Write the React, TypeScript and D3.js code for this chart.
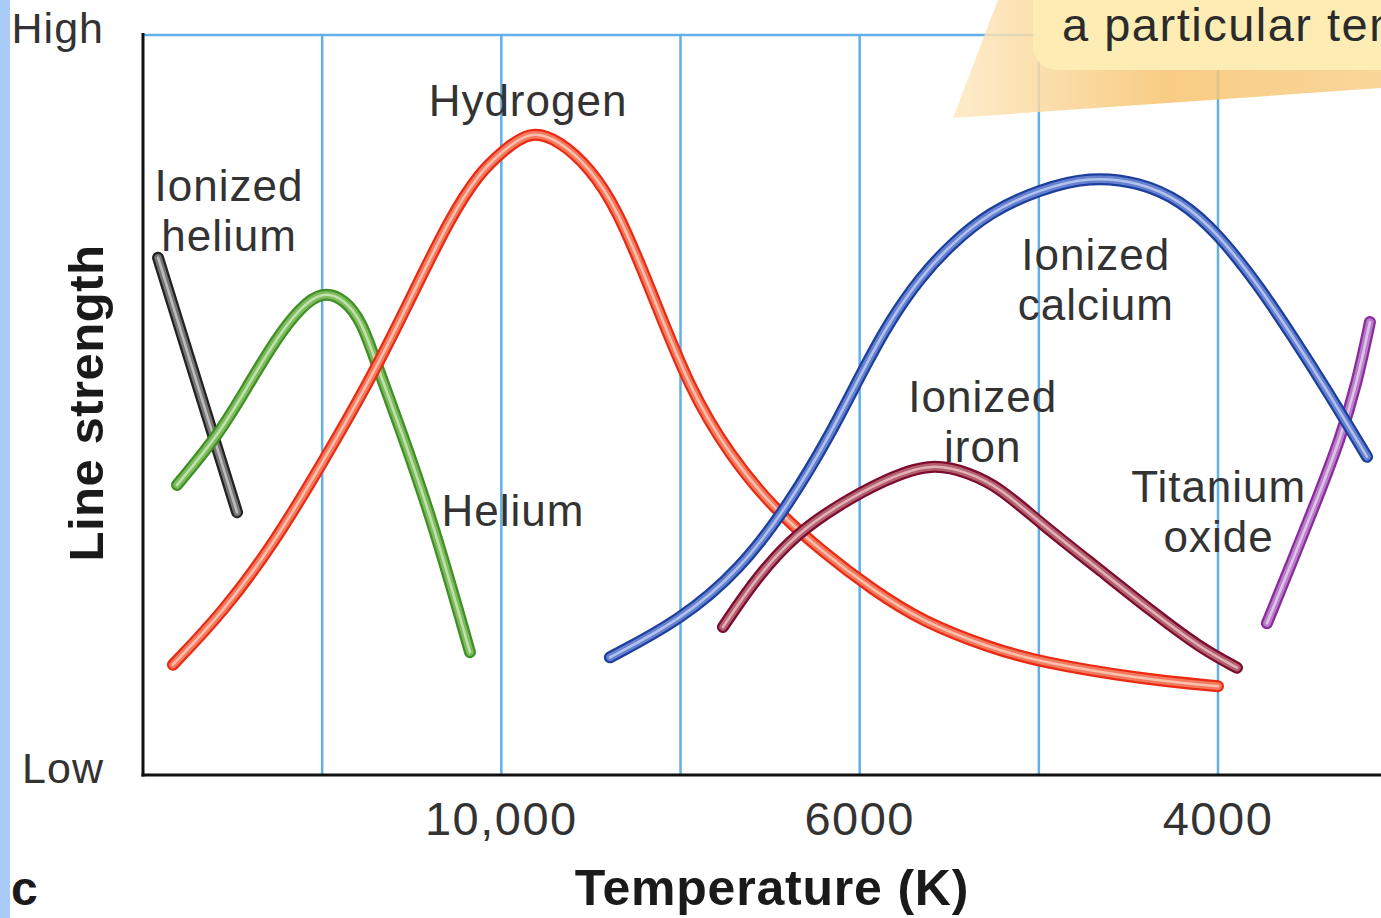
import * as d3 from "d3";
import React from "react";

// positions along the temperature axis are in grid steps (0 = y axis, 1..6 = blue gridlines)
const gridSteps = [1, 2, 3, 4, 5, 6];
const tickSteps = [2, 4, 6];
const tickLabels = ["10,000", "6000", "4000"];

// [grid step, line strength 0..100]
const ionizedHelium: [number, number][] = [
  [0.084, 69.9],
  [0.525, 35.5],
];
const helium: [number, number][] = [
  [0.19, 39.2], [0.43, 46.2], [0.597, 53.1], [0.748, 59.1], [0.876, 63.1],
  [0.999, 65.4], [1.127, 64.3], [1.222, 61.2], [1.295, 56.1], [1.434, 47.0],
  [1.619, 34.1], [1.825, 16.6],
];
const hydrogen: [number, number][] = [
  [0.167, 14.9], [0.446, 22.0], [0.726, 31.1], [1.005, 42.3], [1.284, 54.1],
  [1.49, 64.2], [1.713, 75.3], [1.881, 81.5], [2.004, 84.2], [2.16, 87.2],
  [2.327, 85.7], [2.495, 82.0], [2.645, 76.6], [2.83, 65.8], [3.053, 52.0],
  [3.276, 43.2], [3.516, 36.1], [3.795, 30.1], [4.074, 25.0], [4.353, 20.7],
  [4.727, 17.2], [5.001, 15.3], [5.564, 13.0], [6.0, 12.0],
];
const ionizedCalcium: [number, number][] = [
  [2.606, 15.9], [2.997, 20.9], [3.332, 27.7], [3.611, 36.8], [3.834, 45.9],
  [4.018, 54.7], [4.169, 61.4], [4.337, 67.2], [4.504, 71.6], [4.727, 76.1],
  [5.001, 79.1], [5.285, 80.9], [5.564, 80.1], [5.788, 77.7], [6.0, 73.2],
  [6.234, 65.9], [6.418, 59.2], [6.608, 52.0], [6.832, 43.0],
];
const ionizedIron: [number, number][] = [
  [3.237, 20.0], [3.427, 26.8], [3.65, 32.7], [3.89, 36.6], [4.113, 39.6],
  [4.392, 42.3], [4.616, 40.8], [4.783, 38.8], [5.001, 34.2], [5.341, 27.7],
  [5.62, 22.3], [5.899, 17.2], [6.106, 14.5],
];
const titaniumOxide: [number, number][] = [
  [6.273, 20.5], [6.418, 29.1], [6.552, 37.2], [6.681, 45.3], [6.776, 53.0],
  [6.848, 61.2],
];

const series = [
  { name: "ionizedHelium", data: ionizedHelium, dark: "#222", mid: "#767676", light: "#d0d0d0" },
  { name: "helium", data: helium, dark: "#3f8f24", mid: "#7dbb5c", light: "#d2ebc4" },
  { name: "hydrogen", data: hydrogen, dark: "#ea2a12", mid: "#f37a5e", light: "#fcd2c2" },
  { name: "ionizedIron", data: ionizedIron, dark: "#7c0b2e", mid: "#b3606f", light: "#ecc6cd" },
  { name: "titaniumOxide", data: titaniumOxide, dark: "#8b2a9c", mid: "#b87fc8", light: "#ead6f0" },
  { name: "ionizedCalcium", data: ionizedCalcium, dark: "#1c3f9e", mid: "#6581cf", light: "#c7d2f2" },
];

const labels = [
  { lines: ["Ionized", "helium"], step: 0.48, s: 77.6 },
  { lines: ["Hydrogen"], step: 2.149, s: 89.0 },
  { lines: ["Helium"], step: 2.065, s: 33.6 },
  { lines: ["Ionized", "calcium"], step: 5.318, s: 68.2 },
  { lines: ["Ionized", "iron"], step: 4.687, s: 49.0 },
  { lines: ["Titanium", "oxide"], step: 6.004, s: 36.9 },
];

const W = 1381;
const H = 918;

export default function App() {
  const x = d3.scaleLinear().domain([0, 6]).range([143, 1218]);
  const y = d3.scaleLinear().domain([0, 100]).range([775, 35]);
  const line = d3
    .line<[number, number]>()
    .x((d) => x(d[0]))
    .y((d) => y(d[1]))
    .curve(d3.curveBasis);
  const straight = d3
    .line<[number, number]>()
    .x((d) => x(d[0]))
    .y((d) => y(d[1]));

  const font = "'Liberation Sans', Arial, sans-serif";
  const textFill = "#333";

  return (
    <div style={{ position: "absolute", left: 0, top: 0 }}>
      <svg width={W} height={H} style={{ display: "block", background: "#fff" }}>
        <defs>
          <linearGradient id="callout" x1="0" x2="1" y1="0" y2="0">
            <stop offset="0%" stopColor="#fde9c2" />
            <stop offset="50%" stopColor="#f7c36e" />
            <stop offset="100%" stopColor="#f9cf88" />
          </linearGradient>
        </defs>
        <rect x={0} y={0} width={10} height={H} fill="#a8ccf7" />

        {/* grid */}
        <line x1={x(0)} x2={W} y1={y(100)} y2={y(100)} stroke="#62b0ea" strokeWidth={2.5} />
        {gridSteps.map((g) => (
          <line key={g} x1={x(g)} x2={x(g)} y1={y(100)} y2={y(0)} stroke="#62b0ea" strokeWidth={2.5} />
        ))}

        {/* callout */}
        <polygon points="953,118 998,0 1381,0 1381,88" fill="url(#callout)" opacity={0.85} />
        <rect x={1033} y={-40} width={420} height={110} rx={24} fill="#fdedb5" />
        <text x={1062} y={41} fontFamily={font} fontSize={47} letterSpacing={1.5} fill="#2b2b2b">
          a particular temperature
        </text>

        {/* axes */}
        <line x1={x(0)} x2={x(0)} y1={y(100) - 2} y2={y(0) + 1.5} stroke="#111" strokeWidth={3} />
        <line x1={x(0) - 1.5} x2={W} y1={y(0)} y2={y(0)} stroke="#111" strokeWidth={3} />

        {/* curves */}
        {series.map((s) => {
          const d = (s.data.length > 2 ? line(s.data) : straight(s.data)) || "";
          return (
            <g key={s.name} fill="none" strokeLinecap="round" strokeLinejoin="round">
              <path d={d} stroke={s.dark} strokeWidth={12} />
              <path d={d} stroke={s.mid} strokeWidth={7.5} />
              <path d={d} stroke={s.light} strokeWidth={2.5} opacity={0.8} />
            </g>
          );
        })}

        {/* curve labels */}
        {labels.map((l) => (
          <text
            key={l.lines.join(" ")}
            x={x(l.step)}
            y={y(l.s)}
            textAnchor="middle"
            fontFamily={font}
            fontSize={44}
            letterSpacing={1}
            fill={textFill}
          >
            {l.lines.map((t, i) => (
              <tspan key={t} x={x(l.step)} dy={i === 0 ? 0 : 50}>
                {t}
              </tspan>
            ))}
          </text>
        ))}

        {/* y end labels */}
        <text x={104} y={y(100) + 8} textAnchor="end" fontFamily={font} fontSize={43} letterSpacing={1} fill={textFill}>
          High
        </text>
        <text x={104} y={y(0) + 8} textAnchor="end" fontFamily={font} fontSize={43} letterSpacing={1} fill={textFill}>
          Low
        </text>

        {/* tick labels */}
        {tickSteps.map((t, i) => (
          <text
            key={t}
            x={x(t)}
            y={835}
            textAnchor="middle"
            fontFamily={font}
            fontSize={47}
            letterSpacing={1.5}
            fill={textFill}
          >
            {tickLabels[i]}
          </text>
        ))}

        {/* axis titles */}
        <text
          transform={`translate(103,403) rotate(-90)`}
          textAnchor="middle"
          fontFamily={font}
          fontWeight="bold"
          fontSize={49}
          letterSpacing={0.5}
          fill="#1a1a1a"
        >
          Line strength
        </text>
        <text
          x={772}
          y={905}
          textAnchor="middle"
          fontFamily={font}
          fontWeight="bold"
          fontSize={50}
          letterSpacing={0.8}
          fill="#1a1a1a"
        >
          Temperature (K)
        </text>
        <text x={11} y={905} fontFamily={font} fontWeight="bold" fontSize={48} fill="#1a1a1a">
          c
        </text>
      </svg>
    </div>
  );
}
